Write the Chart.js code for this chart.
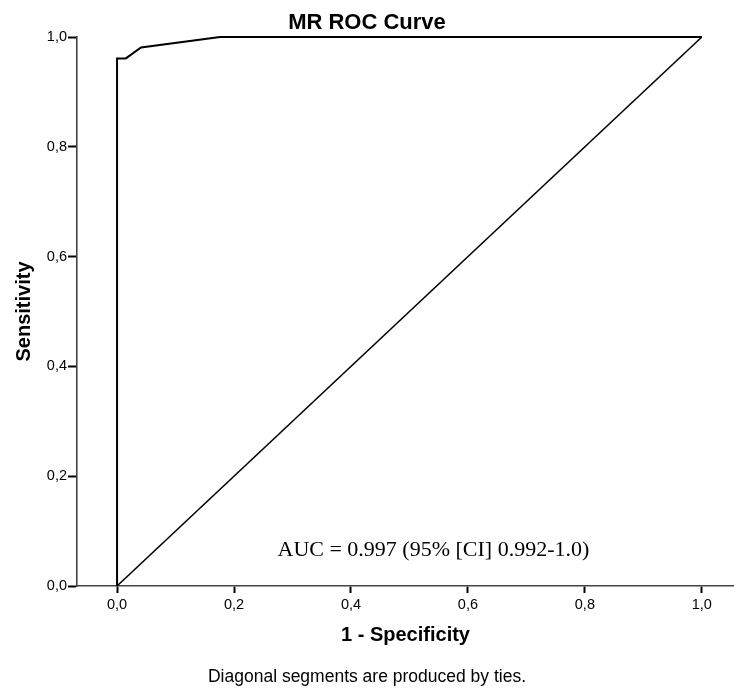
<!DOCTYPE html>
<html>
<head>
<meta charset="utf-8">
<title>MR ROC Curve</title>
<script src="https://cdn.jsdelivr.net/npm/chart.js@4.4.1/dist/chart.umd.min.js"></script>
<style>
    html, body { margin: 0; padding: 0; background: #fff; }
    canvas { display: block; }
</style>
</head>
<body>
<canvas id="rocChart" width="734" height="691"></canvas>
<script>
// ROC curve (1 - specificity, sensitivity)
const rocFpr = [0, 0, 0.015, 0.041, 0.176, 1.0];
const rocTpr = [0, 0.961, 0.961, 0.981, 1.0, 1.0];

// reference diagonal
const diagFpr = [0, 1];
const diagTpr = [0, 1];

const tickValues = [0, 0.2, 0.4, 0.6, 0.8, 1.0];
const aucLabel = 'AUC = 0.997 (95% [CI] 0.992-1.0)';

const toPoints = (xs, ys) => xs.map((x, i) => ({ x: x, y: ys[i] }));
const commaTick = (v) => Number(v).toFixed(1).replace('.', ',');

Chart.defaults.font.family = '"Liberation Sans", Arial, sans-serif';
Chart.defaults.color = '#000';

// AUC text inside the plot
const aucPlugin = {
    id: 'aucText',
    afterDatasetsDraw(chart) {
        const { ctx, scales } = chart;
        ctx.save();
        ctx.font = '22px "Liberation Serif", "Times New Roman", serif';
        ctx.fillStyle = '#000';
        ctx.textAlign = 'center';
        ctx.textBaseline = 'middle';
        ctx.fillText(aucLabel, scales.x.getPixelForValue(0.541), scales.y.getPixelForValue(0.066));
        ctx.restore();
    }
};

new Chart(document.getElementById('rocChart'), {
    type: 'scatter',
    data: {
        datasets: [
            {
                label: 'MR',
                data: toPoints(rocFpr, rocTpr),
                showLine: true,
                borderColor: '#000',
                borderWidth: 2,
                pointRadius: 0,
                tension: 0,
                clip: false
            },
            {
                label: 'Reference',
                data: toPoints(diagFpr, diagTpr),
                showLine: true,
                borderColor: '#000',
                borderWidth: 1.6,
                pointRadius: 0,
                clip: false
            }
        ]
    },
    options: {
        responsive: false,
        animation: false,
        layout: { padding: 0 },
        plugins: {
            legend: { display: false },
            tooltip: { enabled: false },
            title: {
                display: true,
                text: 'MR ROC Curve',
                color: '#000',
                font: { size: 22, weight: 'bold' },
                padding: { top: 9.8, bottom: 0.8 }
            },
            subtitle: {
                display: true,
                position: 'bottom',
                text: 'Diagonal segments are produced by ties.',
                color: '#000',
                font: { size: 17.5, weight: 'normal' },
                padding: { top: 0, bottom: 3.5 }
            }
        },
        scales: {
            x: {
                type: 'linear',
                min: -0.0685,
                max: 1.055,
                afterBuildTicks: (scale) => {
                    scale.ticks = tickValues.map(v => ({ value: v }));
                },
                afterFit: (scale) => { scale.height = 80.5; },
                ticks: {
                    callback: commaTick,
                    font: { size: 14.5 },
                    color: '#000',
                    padding: 3,
                    maxRotation: 0
                },
                grid: {
                    drawOnChartArea: false,
                    tickLength: 7,
                    tickColor: '#000',
                    tickWidth: 2
                },
                border: { display: true, color: '#444', width: 1.6 },
                title: {
                    display: true,
                    text: '1 - Specificity',
                    color: '#000',
                    font: { size: 20, weight: 'bold' },
                    padding: { top: 0, bottom: 19.5 }
                }
            },
            y: {
                type: 'linear',
                min: 0,
                max: 1,
                afterBuildTicks: (scale) => {
                    scale.ticks = tickValues.map(v => ({ value: v }));
                },
                afterFit: (scale) => { scale.width = 77; },
                ticks: {
                    callback: commaTick,
                    font: { size: 14.5 },
                    color: '#000',
                    padding: 1
                },
                grid: {
                    drawOnChartArea: false,
                    tickLength: 9,
                    tickColor: '#000',
                    tickWidth: 2
                },
                border: { display: true, color: '#444', width: 1.6 },
                title: {
                    display: true,
                    text: 'Sensitivity',
                    color: '#000',
                    font: { size: 20, weight: 'bold' },
                    padding: { top: 12, bottom: 0 }
                }
            }
        }
    },
    plugins: [aucPlugin]
});
</script>
</body>
</html>
